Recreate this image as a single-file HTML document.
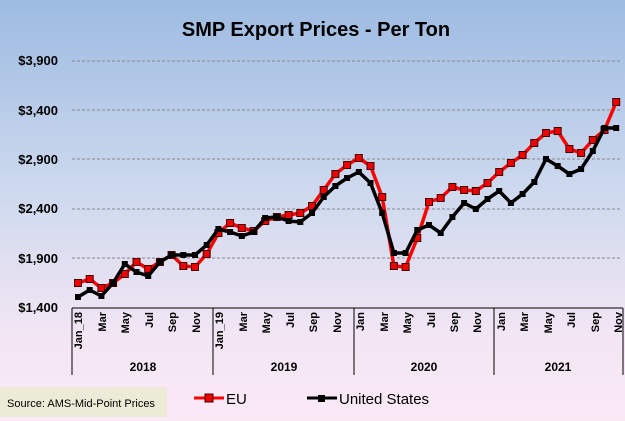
<!DOCTYPE html>
<html><head><meta charset="utf-8"><style>
html,body{margin:0;padding:0;width:625px;height:421px;overflow:hidden}
svg{display:block;font-family:"Liberation Sans",sans-serif}
</style></head><body>
<svg id="s" width="625" height="421" xmlns="http://www.w3.org/2000/svg">
<defs><linearGradient id="bg" x1="0" y1="0" x2="0" y2="1">
<stop offset="0" stop-color="#9dbbe2"/><stop offset="0.45" stop-color="#cdd9ee"/><stop offset="0.8" stop-color="#f3e6f4"/><stop offset="1" stop-color="#fbe9f6"/></linearGradient></defs>
<rect width="625" height="421" fill="url(#bg)"/>
<text x="316" y="36" text-anchor="middle" font-size="20" font-weight="bold">SMP Export Prices - Per Ton</text>
<g stroke="#888" stroke-width="1" stroke-dasharray="3,2">
<line x1="72" y1="61" x2="622" y2="61"/><line x1="72" y1="110" x2="622" y2="110"/><line x1="72" y1="159" x2="622" y2="159"/><line x1="72" y1="209" x2="622" y2="209"/><line x1="72" y1="258" x2="622" y2="258"/>
</g>
<g font-size="13" font-weight="bold" text-anchor="end">
<text x="58" y="65">$3,900</text><text x="58" y="115">$3,400</text><text x="58" y="164">$2,900</text><text x="58" y="213">$2,400</text><text x="58" y="263">$1,900</text><text x="58" y="312">$1,400</text>
</g>
<g stroke="#000" stroke-width="1">
<line x1="72" y1="308" x2="623" y2="308"/>
<line x1="72" y1="308" x2="72" y2="375"/><line x1="213" y1="308" x2="213" y2="375"/><line x1="354" y1="308" x2="354" y2="375"/><line x1="494" y1="308" x2="494" y2="375"/><line x1="623" y1="308" x2="623" y2="375"/>
</g>
<g font-size="11" font-weight="bold" text-anchor="end">
<text transform="translate(82,312) rotate(-90)">Jan_18</text>
<text transform="translate(106,312) rotate(-90)">Mar</text>
<text transform="translate(129,312) rotate(-90)">May</text>
<text transform="translate(153,312) rotate(-90)">Jul</text>
<text transform="translate(176,312) rotate(-90)">Sep</text>
<text transform="translate(200,312) rotate(-90)">Nov</text>
<text transform="translate(223,312) rotate(-90)">Jan_19</text>
<text transform="translate(247,312) rotate(-90)">Mar</text>
<text transform="translate(270,312) rotate(-90)">May</text>
<text transform="translate(294,312) rotate(-90)">Jul</text>
<text transform="translate(317,312) rotate(-90)">Sep</text>
<text transform="translate(341,312) rotate(-90)">Nov</text>
<text transform="translate(364,312) rotate(-90)">Jan</text>
<text transform="translate(388,312) rotate(-90)">Mar</text>
<text transform="translate(411,312) rotate(-90)">May</text>
<text transform="translate(435,312) rotate(-90)">Jul</text>
<text transform="translate(458,312) rotate(-90)">Sep</text>
<text transform="translate(481,312) rotate(-90)">Nov</text>
<text transform="translate(505,312) rotate(-90)">Jan</text>
<text transform="translate(528,312) rotate(-90)">Mar</text>
<text transform="translate(552,312) rotate(-90)">May</text>
<text transform="translate(575,312) rotate(-90)">Jul</text>
<text transform="translate(599,312) rotate(-90)">Sep</text>
<text transform="translate(622,312) rotate(-90)">Nov</text>
</g>
<g font-size="12" font-weight="bold" text-anchor="middle">
<text x="143" y="371">2018</text><text x="284" y="371">2019</text><text x="424" y="371">2020</text><text x="558" y="371">2021</text>
</g>
<g id="series"></g>
<rect x="0" y="387" width="167" height="30" fill="#ecebd8"/>
<text x="7" y="407" font-size="11">Source: AMS-Mid-Point Prices</text>
<line x1="194" y1="398" x2="224" y2="398" stroke="#f00" stroke-width="3"/>
<rect x="205" y="394" width="8" height="8" fill="#e00" stroke="#400" stroke-width="1"/>
<text x="226" y="404" font-size="15">EU</text>
<line x1="307" y1="398" x2="337" y2="398" stroke="#000" stroke-width="3"/>
<rect x="318" y="395" width="7" height="7" fill="#000"/>
<text x="339" y="404" font-size="15">United States</text>
</svg>
<script>
var eu=[283,279,288,283,274,262,269,262,255,266,267,254,233,223,228,231,221,217,215,213,206,190,174,165,158,166,197,266,267,238,202,198,187,190,191,183,172,163,155,143,133,131,149,153,140,130,102];
var us=[297,290,296,283,264,272,276,262,255,255,255,245,229,232,236,232,218,217,221,222,213,197,186,178,172,183,213,253,253,230,225,233,217,203,209,199,191,203,194,182,159,166,174,169,151,128,128];
var g=document.getElementById('series'),ns='http://www.w3.org/2000/svg';
function draw(d,col,w,mf,ms,ms2){var p=d.map(function(y,i){return (78+11.7*i).toFixed(1)+','+y}).join(' ');
var l=document.createElementNS(ns,'polyline');l.setAttribute('points',p);l.setAttribute('fill','none');l.setAttribute('stroke',col);l.setAttribute('stroke-width',w);l.setAttribute('stroke-linejoin','round');g.appendChild(l);
d.forEach(function(y,i){var r=document.createElementNS(ns,'rect');var x=78+11.7*i;r.setAttribute('x',x-ms/2);r.setAttribute('y',y-ms/2);r.setAttribute('width',ms);r.setAttribute('height',ms);r.setAttribute('fill',mf);if(ms2){r.setAttribute('stroke',ms2);r.setAttribute('stroke-width',1);}g.appendChild(r);});}
draw(eu,'#f00',3.5,'#e00',7,'#400');
draw(us,'#000',3.5,'#000',6,null);
</script>
</body></html>
